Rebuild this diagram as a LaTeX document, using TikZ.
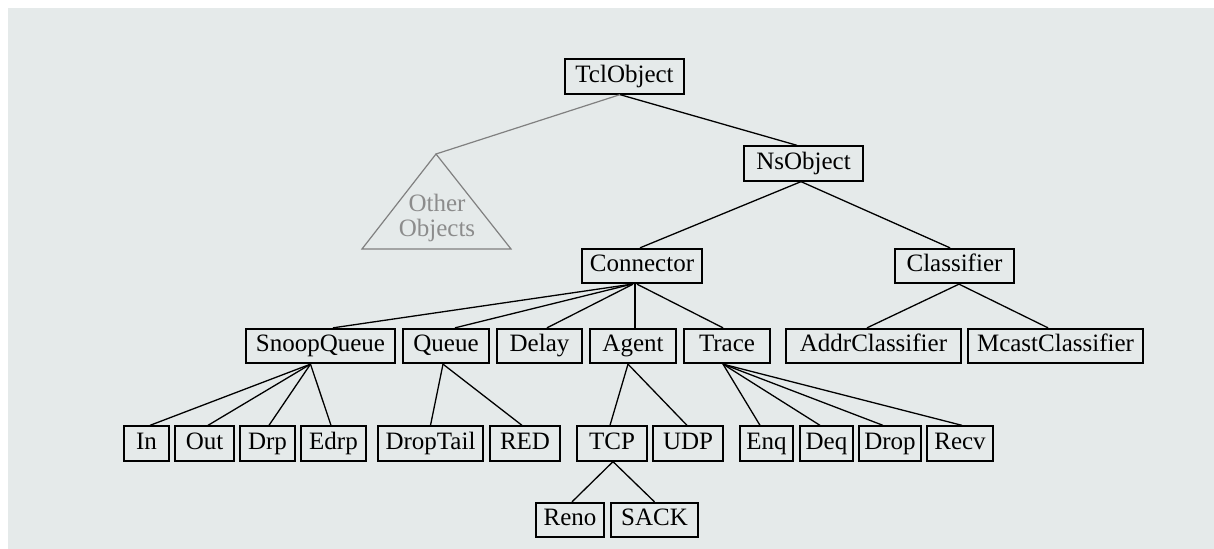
\documentclass[tikz,border=0pt]{standalone}
\usepackage{fontspec}
\setmainfont{Liberation Serif}
\definecolor{paper}{RGB}{229,234,234}
\definecolor{faint}{RGB}{128,128,128}
\definecolor{fainttext}{RGB}{140,140,140}
\tikzset{
  box/.style={draw=black, line width=0.9pt, inner sep=0pt, minimum height=17.25pt,
              text height=8.6pt, text depth=2.9pt,
              font=\fontsize{12.5pt}{14pt}\selectfont, text=black},
  bw/.style={minimum width=#1*0.5pt},
  link/.style={draw=black, line width=0.65pt},
  faintlink/.style={draw=faint, line width=0.6pt},
}
\begin{document}
\begin{tikzpicture}[x=0.5pt, y=-0.5pt]
  % page and textured paper area
  \useasboundingbox (0,0) rectangle (1214,549);
  \fill[white] (0,0) rectangle (1214,549);
  \fill[paper] (8,8) rectangle (1215,550);

  % class boxes
  \node[box, bw=119] (tcl)   at (624.5,76.5) {TclObject};
  \node[box, bw=119] (ns)    at (803.5,163.5) {NsObject};
  \node[box, bw=120] (conn)  at (642,266) {Connector};
  \node[box, bw=119] (cls)   at (954.5,266) {Classifier};

  \node[box, bw=149] (snoop) at (320.5,346) {SnoopQueue};
  \node[box, bw=86]  (queue) at (446,346) {Queue};
  \node[box, bw=85]  (delay) at (539.5,346) {Delay};
  \node[box, bw=86]  (agent) at (633,346) {Agent};
  \node[box, bw=86]  (trace) at (727,346) {Trace};
  \node[box, bw=175] (addr)  at (873.5,346) {AddrClassifier};
  \node[box, bw=175] (mcast) at (1055.5,346) {McastClassifier};

  \node[box, bw=45]  (in)       at (146.5,443.5) {In};
  \node[box, bw=59]  (out)      at (204.5,443.5) {Out};
  \node[box, bw=55]  (drp)      at (267.5,443.5) {Drp};
  \node[box, bw=65]  (edrp)     at (333.5,443.5) {Edrp};
  \node[box, bw=105] (droptail) at (430.5,443.5) {DropTail};
  \node[box, bw=70]  (red)      at (525,443.5) {RED};
  \node[box, bw=70]  (tcp)      at (612,443.5) {TCP};
  \node[box, bw=70]  (udp)      at (688,443.5) {UDP};
  \node[box, bw=53]  (enq)      at (766.5,443.5) {Enq};
  \node[box, bw=53]  (deq)      at (826.5,443.5) {Deq};
  \node[box, bw=62]  (drop)     at (890,443.5) {Drop};
  \node[box, bw=66]  (recv)     at (960,443.5) {Recv};

  \node[box, bw=68]  (reno) at (570,520) {Reno};
  \node[box, bw=87]  (sack) at (654.5,520) {SACK};

  % collapsed subtree of other objects
  \coordinate (otherapex) at (436,154);
  \coordinate (otherleft) at (362,249);
  \coordinate (otherright) at (511,249);
  \draw[faintlink] (otherapex) -- (otherleft) -- (otherright) -- cycle;
  \node[align=center, text=fainttext, inner sep=0pt,
        font=\fontsize{12.5pt}{12.5pt}\selectfont] (otherlabel) at (437,218) {Other\\Objects};
  \draw[faintlink] ([xshift=-2.25pt]tcl.south) -- (otherapex);

  % inheritance links
  \draw[link] ([xshift=-2.25pt]tcl.south) -- ([xshift=-3.25pt]ns.north);
  \draw[link] ([xshift=-1.25pt]ns.south) -- ([xshift=-1pt]conn.north);
  \draw[link] ([xshift=-1.25pt]ns.south) -- ([xshift=-2.25pt]cls.north);

  \draw[link] ([xshift=2.25pt]cls.south) -- ([xshift=-3.25pt]addr.north);
  \draw[link] ([xshift=2.25pt]cls.south) -- ([xshift=-3.75pt]mcast.north);

  \draw[link] ([xshift=-5pt]conn.south) -- ([xshift=6.25pt]snoop.north);
  \draw[link] ([xshift=-5pt]conn.south) -- ([xshift=4.5pt]queue.north);
  \draw[link] ([xshift=-4.5pt]conn.south) -- ([xshift=3.75pt]delay.north);
  \draw[link] ([xshift=-3.5pt]conn.south) -- ([xshift=1pt]agent.north);
  \draw[link] ([xshift=-2.5pt]conn.south) -- ([xshift=-2pt]trace.north);

  \draw[link] ([xshift=-5pt]snoop.south) -- ([xshift=1.75pt]in.north);
  \draw[link] ([xshift=-5pt]snoop.south) -- ([xshift=1.75pt]out.north);
  \draw[link] ([xshift=-5pt]snoop.south) -- ([xshift=0.75pt]drp.north);
  \draw[link] ([xshift=-5pt]snoop.south) -- ([xshift=-1.25pt]edrp.north);

  \draw[link] ([xshift=-1.5pt]queue.south) -- (droptail.north);
  \draw[link] ([xshift=-1.5pt]queue.south) -- ([xshift=-1.5pt]red.north);

  \draw[link] ([xshift=-2.5pt]agent.south) -- ([xshift=-1pt]tcp.north);
  \draw[link] ([xshift=-2.5pt]agent.south) -- ([xshift=-0.5pt]udp.north);

  \draw[link] ([xshift=-2pt]trace.south) -- ([xshift=-3.25pt]enq.north);
  \draw[link] ([xshift=-2pt]trace.south) -- ([xshift=-3.25pt]deq.north);
  \draw[link] ([xshift=-2pt]trace.south) -- ([xshift=-3.5pt]drop.north);
  \draw[link] ([xshift=-2pt]trace.south) -- ([xshift=1pt]recv.north);

  \draw[link] ([xshift=0.5pt]tcp.south) -- ([xshift=1pt]reno.north);
  \draw[link] ([xshift=0.5pt]tcp.south) -- (sack.north);
\end{tikzpicture}
\end{document}
